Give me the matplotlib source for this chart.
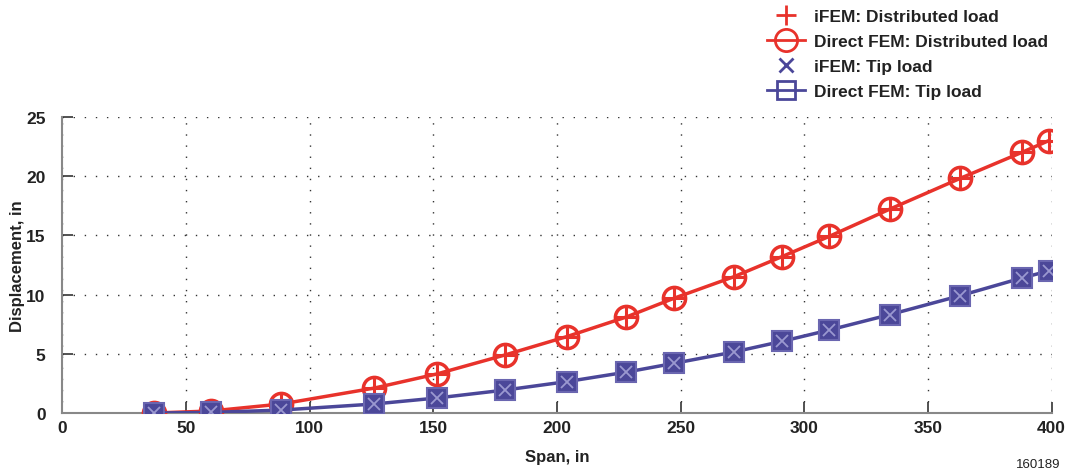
import numpy as np
import matplotlib.pyplot as plt
from matplotlib.lines import Line2D

# Span stations (in) and tip displacements (in)
span = [37, 60, 88.5, 126, 151.5, 179, 204, 228, 247.5, 271.5, 291, 310, 334.5, 363, 388, 399]
disp_distributed = [0.0, 0.17, 0.76, 2.1, 3.3, 4.9, 6.45, 8.1, 9.7, 11.5, 13.2, 14.9, 17.2, 19.8, 22.0, 23.0]
disp_tip = [0.0, 0.05, 0.25, 0.76, 1.27, 1.94, 2.65, 3.45, 4.2, 5.15, 6.05, 7.0, 8.3, 9.9, 11.4, 12.0]

RED = '#e8322b'
BLUE = '#4b4799'

plt.rcParams['font.family'] = ['Liberation Sans', 'DejaVu Sans']

fig = plt.figure(figsize=(10.73, 4.77), dpi=100)
ax = fig.add_axes([0.058, 0.132, 0.922, 0.621])

# direct FEM curves (lines + open markers), iFEM markers on top
ax.plot(span, disp_distributed, '-', color=RED, linewidth=2.5, marker='o', markersize=16,
        markerfacecolor='none', markeredgecolor=RED, markeredgewidth=2.5, zorder=3)
ax.plot(span, disp_distributed, linestyle='none', marker='+', markersize=14,
        markeredgecolor=RED, markeredgewidth=2.2, zorder=4)

ax.plot(span, disp_tip, '-', color=BLUE, linewidth=2.5, marker='s', markersize=14,
        markerfacecolor=BLUE, markeredgecolor='#6a66b0', markeredgewidth=1.5, zorder=5)
ax.plot(span, disp_tip, linestyle='none', marker='x', markersize=9,
        markeredgecolor='#9a98d0', markeredgewidth=1.3, zorder=6)

ax.set_xlim(0, 400)
ax.set_ylim(0, 25)
ax.set_xticks(np.arange(0, 401, 50))
ax.set_yticks(np.arange(0, 26, 5))

ax.grid(True, color='#333333', linestyle=(0, (1, 7)), linewidth=1.0)
ax.set_axisbelow(True)
for side in ['top', 'right']:
    ax.spines[side].set_visible(False)
for side in ['left', 'bottom']:
    ax.spines[side].set_color('#888888')
    ax.spines[side].set_linewidth(1.5)

ax.tick_params(direction='in', length=8, width=1.2, color='#333333',
               labelsize=12.5)
ax.tick_params(axis='y', pad=12)
ax.tick_params(axis='x', pad=5)
for lbl in ax.get_xticklabels() + ax.get_yticklabels():
    lbl.set_fontweight('bold')
    lbl.set_color('#222222')

ax.set_xlabel('Span, in', fontsize=12, fontweight='bold', color='#222222', labelpad=10)
ax.set_ylabel('Displacement, in', fontsize=12, fontweight='bold', color='#222222', labelpad=1)

handles = [
    Line2D([], [], linestyle='none', marker='+', markersize=15, markeredgecolor=RED,
           markeredgewidth=2.0),
    Line2D([], [], color=RED, linewidth=2.0, marker='o', markersize=16,
           markerfacecolor='none', markeredgecolor=RED, markeredgewidth=2.0),
    Line2D([], [], linestyle='none', marker='x', markersize=10, markeredgecolor=BLUE,
           markeredgewidth=2.0),
    Line2D([], [], color=BLUE, linewidth=2.0, marker='s', markersize=13,
           markerfacecolor='none', markeredgecolor=BLUE, markeredgewidth=2.0),
]
labels = ['iFEM: Distributed load', 'Direct FEM: Distributed load',
          'iFEM: Tip load', 'Direct FEM: Tip load']
leg = fig.legend(handles, labels, loc='upper left', bbox_to_anchor=(0.7, 1.012),
                 frameon=False, prop={'size': 12.5, 'weight': 'bold'},
                 handlelength=2.2, handletextpad=0.55, labelspacing=0.56)
for t in leg.get_texts():
    t.set_color('#222222')

fig.text(0.968, 0.018, '160189', fontsize=9.5, ha='center', color='#222222')

fig.savefig('out.png', dpi=100, facecolor='white')
